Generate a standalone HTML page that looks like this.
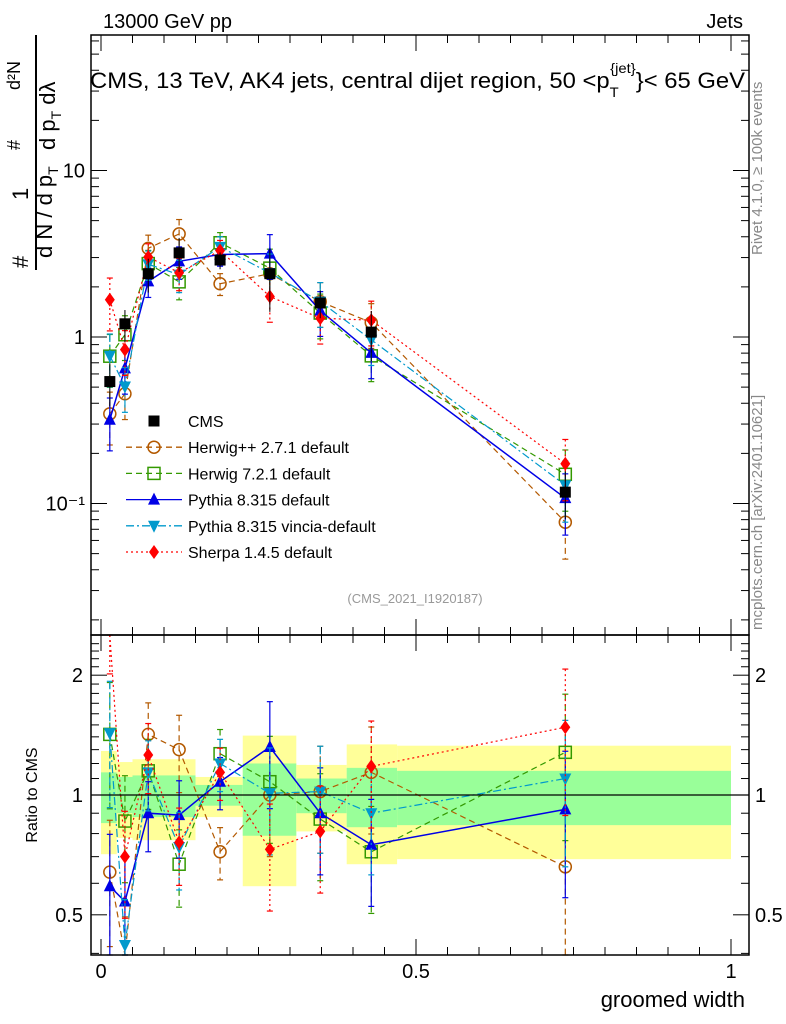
<!DOCTYPE html>
<html><head><meta charset="utf-8"><style>
html,body{margin:0;padding:0;background:#fff;}
svg{display:block;font-family:"Liberation Sans",sans-serif;}
</style></head><body>
<svg id="c" width="786" height="1024" xmlns="http://www.w3.org/2000/svg">
<g id="bands"></g>
<g id="series"></g>
<g id="axes"></g>
<text x="103" y="28" font-size="20">13000 GeV pp</text>
<text x="743" y="28" font-size="20" text-anchor="end">Jets</text>
<text x="90" y="88" font-size="22.5" textLength="655" lengthAdjust="spacingAndGlyphs">CMS, 13 TeV, AK4 jets, central dijet region, 50 &lt;p<tspan font-size="14" dy="9">T</tspan><tspan font-size="14" dy="-24" dx="-8">{jet}</tspan><tspan dy="15">}&lt; 65 GeV</tspan></text>
<text x="415" y="603" font-size="13" fill="#999" text-anchor="middle">(CMS_2021_I1920187)</text>
<text transform="translate(762,255) rotate(-90)" font-size="15" fill="#888">Rivet 4.1.0, ≥ 100k events</text>
<text transform="translate(762,630) rotate(-90)" font-size="15" fill="#888">mcplots.cern.ch [arXiv:2401.10621]</text>
<g font-size="22">
<text transform="translate(28,268) rotate(-90)">#</text>
<text transform="translate(52,258) rotate(-90)">d N / d p<tspan font-size="14" dy="6">T</tspan></text>
<line x1="36" y1="35" x2="36" y2="270" stroke="#000" stroke-width="2"/>
<text transform="translate(28,200) rotate(-90)" >1</text>
<text transform="translate(20,150) rotate(-90)" font-size="18">#</text>
<text transform="translate(55,150) rotate(-90)">d p<tspan font-size="14" dy="6">T</tspan><tspan dy="-6"> d</tspan>λ</text>
<text transform="translate(20,90) rotate(-90)" font-size="18">d²N</text>
</g>
<text transform="translate(37,795) rotate(-90)" font-size="16" text-anchor="middle">Ratio to CMS</text>
<text x="745" y="1007" font-size="22" text-anchor="end">groomed width</text>
<g id="legend"></g>
</svg>
<script>
const NS="http://www.w3.org/2000/svg";
const binEdges=[0,0.025,0.05,0.1,0.15,0.225,0.31,0.39,0.47,1.0];
const xCenters=[0.014,0.038,0.075,0.124,0.189,0.268,0.348,0.429,0.737];
const cmsValues=[0.54,1.2,2.4,3.2,2.9,2.4,1.6,1.07,0.117];
const yellowUp=[1.29,1.21,1.23,1.23,1.11,1.41,1.19,1.34,1.33];
const yellowDn=[0.71,0.78,0.77,0.77,0.88,0.59,0.81,0.67,0.69];
const greenUp=[1.14,1.11,1.12,1.12,1.06,1.2,1.1,1.17,1.15];
const greenDn=[0.85,0.9,0.88,0.88,0.94,0.79,0.9,0.83,0.84];
const herwigppRatio=[0.64,0.38,1.42,1.30,0.72,1.0,1.02,1.14,0.66];
const herwig7Ratio=[1.42,0.86,1.15,0.67,1.27,1.08,0.87,0.72,1.28];
const pythiaRatio=[0.59,0.54,0.9,0.89,1.08,1.32,0.9,0.75,0.92];
const vinciaRatio=[1.43,0.42,1.14,0.74,1.2,1.01,1.02,0.9,1.1];
const sherpaRatio=[3.1,0.7,1.26,0.76,1.14,0.73,0.81,1.18,1.48];
const modelRelErr=[0.35,0.3,0.2,0.22,0.15,0.3,0.3,0.3,0.4];
const mainTicks=[0.1,1,10];
const mainTickLabels=["10⁻¹","1","10"];
const ratioTicks=[0.5,1,2];
const ratioTickLabels=["0.5","1","2"];
const xTicks=[0,0.5,1];
const xTickLabels=["0","0.5","1"];

const L=91,R=749,T=35,MB=635,RB=955;
const X=v=>101+v*630;
const Y=v=>337-Math.log10(v)*166.5;
const YR=v=>795-Math.log10(v)*398;
function mk(tag,attrs,parent){const e=document.createElementNS(NS,tag);for(const k in attrs)e.setAttribute(k,attrs[k]);parent.appendChild(e);return e;}
const bands=document.getElementById('bands'),ser=document.getElementById('series'),ax=document.getElementById('axes'),leg=document.getElementById('legend');
function clampR(y){return Math.max(MB,Math.min(RB,y));}
for(let i=0;i<cmsValues.length;i++){
 const x1=X(binEdges[i]),x2=X(binEdges[i+1]);
 const r=mk('rect',{x:x1,y:YR(yellowUp[i]),width:x2-x1,height:YR(yellowDn[i])-YR(yellowUp[i]),fill:'#ffff99'},bands);
 
 
 const g=mk('rect',{x:x1,y:YR(greenUp[i]),width:x2-x1,height:YR(greenDn[i])-YR(greenUp[i]),fill:'#99ff99'},bands);
 
 
}
mk('rect',{x:L,y:T,width:R-L,height:MB-T,fill:'none',stroke:'#000','stroke-width':1.5},ax);
mk('rect',{x:L,y:MB,width:R-L,height:RB-MB,fill:'none',stroke:'#000','stroke-width':1.5},ax);
mk('line',{x1:L,x2:R,y1:YR(1),y2:YR(1),stroke:'#000','stroke-width':1.2},ax);
for(let d=-2;d<=1;d++){for(let m=1;m<=9;m++){const v=m*Math.pow(10,d);const y=Y(v);if(y<T||y>MB)continue;const len=m==1?16:8;
 mk('line',{x1:L,x2:L+len,y1:y,y2:y,stroke:'#000'},ax);mk('line',{x1:R,x2:R-len,y1:y,y2:y,stroke:'#000'},ax);}}
mainTicks.forEach((v,i)=>{const t=mk('text',{x:L-6,y:Y(v)+7,'font-size':20,'text-anchor':'end'},ax);t.textContent=mainTickLabels[i];
 
 });
for(let v=0.4;v<=2.5;v+=0.1){const y=YR(v);if(y<MB||y>RB)continue;const major=[0.5,1,2].some(t=>Math.abs(t-v)<1e-6);const len=major?16:8;
 mk('line',{x1:L,x2:L+len,y1:y,y2:y,stroke:'#000'},ax);mk('line',{x1:R,x2:R-len,y1:y,y2:y,stroke:'#000'},ax);}
ratioTicks.forEach((v,i)=>{const t=mk('text',{x:L-8,y:YR(v)+7,'font-size':20,'text-anchor':'end'},ax);t.textContent=ratioTickLabels[i];
 
 
 const t2=mk('text',{x:R+6,y:YR(v)+7,'font-size':20},ax);t2.textContent=ratioTickLabels[i];
 
 });
for(let k=0;k<=20;k++){const v=k*0.05;const x=X(v);if(x>R)continue;const len=k%10==0?16:8;
 [[MB,-1],[RB,-1],[T,1],[MB,1]].forEach(([y0,s])=>mk('line',{x1:x,x2:x,y1:y0,y2:y0+s*len,stroke:'#000'},ax));}
xTicks.forEach((v,i)=>{const t=mk('text',{x:X(v),y:978,'font-size':20,'text-anchor':'middle'},ax);t.textContent=xTickLabels[i];
 
 });

function marker(parent,type,x,y,color){
 if(type=='sq') return mk('rect',{x:x-5.5,y:y-5.5,width:11,height:11,fill:color},parent);
 if(type=='circ') return mk('circle',{cx:x,cy:y,r:6,fill:'none',stroke:color,'stroke-width':1.5},parent);
 if(type=='osq') return mk('rect',{x:x-6,y:y-6,width:12,height:12,fill:'none',stroke:color,'stroke-width':1.5},parent);
 if(type=='tri') return mk('polygon',{points:`${x},${y-7} ${x-6},${y+5} ${x+6},${y+5}`,fill:color},parent);
 if(type=='itri') return mk('polygon',{points:`${x},${y+7} ${x-6},${y-5} ${x+6},${y-5}`,fill:color},parent);
 if(type=='dia') return mk('polygon',{points:`${x},${y-7} ${x-5},${y} ${x},${y+7} ${x+5},${y}`,fill:color},parent);
}
const models=[
 {name:'herwigpp',label:'Herwig++ 2.7.1 default',ratio:herwigppRatio,color:'#b35900',m:'circ',dash:'6,4'},
 {name:'herwig7',label:'Herwig 7.2.1 default',ratio:herwig7Ratio,color:'#339900',m:'osq',dash:'6,4'},
 {name:'pythia',label:'Pythia 8.315 default',ratio:pythiaRatio,color:'#0000e6',m:'tri',dash:''},
 {name:'vincia',label:'Pythia 8.315 vincia-default',ratio:vinciaRatio,color:'#0099cc',m:'itri',dash:'8,3,2,3'},
 {name:'sherpa',label:'Sherpa 1.4.5 default',ratio:sherpaRatio,color:'#ff0000',m:'dia',dash:'2,3'}];
function errbar(g,x,y1,y2,color,dash){
 mk('line',{x1:x,x2:x,y1:y1,y2:y2,stroke:color,'stroke-dasharray':dash,'stroke-width':1.2},g);
 mk('line',{x1:x-3,x2:x+3,y1:y1,y2:y1,stroke:color,'stroke-width':1.2},g);
 mk('line',{x1:x-3,x2:x+3,y1:y2,y2:y2,stroke:color,'stroke-width':1.2},g);
}
models.forEach(md=>{
 const g=mk('g',{},ser);
 
 
 const mainPts=[],ratPts=[];
 md.ratio.forEach((r,i)=>{
  const v=r*cmsValues[i],x=X(xCenters[i]),e=modelRelErr[i];
  mainPts.push([x,Math.min(MB,Y(v))]);ratPts.push([x,clampR(YR(r))]);
  errbar(g,x,Math.min(MB,Y(v*(1+e))),Math.min(MB,Y(Math.max(v*(1-e),0.001))),md.color,md.dash);
  errbar(g,x,clampR(YR(r*(1+e))),clampR(YR(r*(1-e))),md.color,md.dash);
 });
 [mainPts,ratPts].forEach(p=>mk('polyline',{points:p.map(q=>q.join(',')).join(' '),fill:'none',stroke:md.color,'stroke-width':md.name=='pythia'?1.5:1.2,'stroke-dasharray':md.dash},g));
 md.ratio.forEach((r,i)=>{const x=X(xCenters[i]);
  const y1=Y(r*cmsValues[i]);if(y1<MB){const p=marker(g,md.m,x,y1,md.color);}
  const y2=YR(r);if(y2>MB&&y2<RB){const p=marker(g,md.m,x,y2,md.color);}
 });
});
cmsValues.forEach((v,i)=>{const x=X(xCenters[i]);
 mk('line',{x1:x,x2:x,y1:Y(v*yellowUp[i]),y2:Y(v*yellowDn[i]),stroke:'#000'},ser);
 const p=marker(ser,'sq',x,Y(v),'#000');
 
 });
const entries=[{label:'CMS',m:'sq',color:'#000',dash:null}].concat(models.map(m=>({label:m.label,m:m.m,color:m.color,dash:m.dash})));
entries.forEach((e,i)=>{const y=421+i*26.2;
 const g=mk('g',{},leg);
 
 
 if(e.dash!==null) mk('line',{x1:126,x2:182,y1:y,y2:y,stroke:e.color,'stroke-dasharray':e.dash,'stroke-width':1.3},g);
 marker(g,e.m,154,y,e.color);
 const t=mk('text',{x:188,y:y+6,'font-size':16},g);t.textContent=e.label;});
</script>
</body></html>
